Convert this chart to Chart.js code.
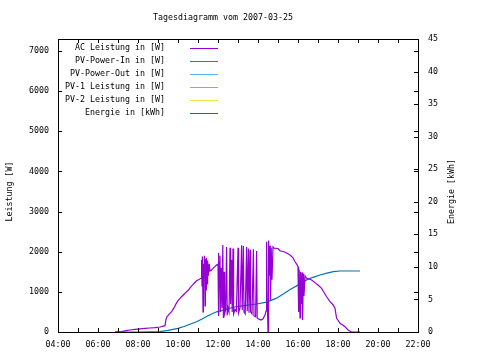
<!DOCTYPE html>
<html>
<head>
<meta charset="utf-8">
<script src="https://cdn.jsdelivr.net/npm/chart.js@4/dist/chart.umd.min.js"></script>
<style>
  html, body { margin: 0; padding: 0; background: #fff; }
  #wrap { width: 480px; height: 360px; }
</style>
</head>
<body>
<div id="wrap"><canvas id="chart" width="480" height="360"></canvas></div>
<script>
// ===================
// Chart data
// ===================
const chartTitle = 'Tagesdiagramm vom 2007-03-25';
const leftTitle = 'Leistung [W]';
const rightTitle = 'Energie [kWh]';

const seriesLabels = ['AC Leistung in [W]', 'PV-Power-In in [W]', 'PV-Power-Out in [W]',
  'PV-1 Leistung in [W]', 'PV-2 Leistung in [W]', 'Energie in [kWh]'];
const seriesColors = ['#9400d3', '#009e73', '#56b4e9', '#e69f00', '#f0e442', '#0072b2'];

// tick values
const hourTicks = [4, 5, 6, 7, 8, 9, 10, 11, 12, 13, 14, 15, 16, 17, 18, 19, 20, 21, 22];
const wattTicks = [0, 1000, 2000, 3000, 4000, 5000, 6000, 7000];
const kwhTicks = [0, 5, 10, 15, 20, 25, 30, 35, 40, 45];

// AC power, time of day in hours
const acHours = [6.85, 7.0, 7.18, 7.4, 7.6, 7.85, 8.1, 8.35, 8.6, 8.85, 9.1, 9.35, 9.4, 9.45, 9.55,
  9.68, 9.8, 9.9, 10.0, 10.1, 10.2, 10.3, 10.42, 10.52, 10.62, 10.72, 10.82, 10.93, 11.05, 11.15,
  11.18, 11.2, 11.22, 11.25, 11.27, 11.3, 11.32, 11.35, 11.37, 11.4, 11.42, 11.45, 11.48, 11.52, 11.56,
  11.6, 11.68, 11.8, 11.93, 12.0,
  12.02, 12.04, 12.07, 12.1, 12.12, 12.16, 12.2, 12.24, 12.27, 12.3, 12.33, 12.38, 12.43, 12.46, 12.5,
  12.55, 12.6, 12.63, 12.68, 12.71, 12.75, 12.78, 12.85, 12.92, 13.0, 13.03, 13.1, 13.18, 13.21, 13.27,
  13.3, 13.36, 13.43, 13.46, 13.52, 13.55, 13.6, 13.63, 13.7, 13.77, 13.8, 13.88, 13.93, 13.96, 14.05,
  14.15, 14.25, 14.35, 14.4, 14.43,
  14.46, 14.5, 14.53, 14.56, 14.6, 14.63, 14.66, 14.7, 14.75, 14.8, 15.0, 15.1, 15.3, 15.45, 15.6,
  15.75, 15.85, 15.95, 16.0, 16.03, 16.06, 16.1, 16.13, 16.16, 16.2, 16.23, 16.27, 16.3, 16.35, 16.43,
  16.55, 16.68, 16.85, 17.0, 17.18, 17.3, 17.43, 17.6, 17.75, 17.85, 17.93, 18.02, 18.1, 18.25, 18.35,
  18.5, 18.68, 19.1];
const acWatts = [0, 5, 10, 35, 50, 67, 80, 90, 100, 110, 125, 157, 320, 380, 440,
  506, 600, 700, 780, 840, 890, 940, 1000, 1046, 1110, 1170, 1220, 1277, 1310, 1337,
  1800, 1150, 1880, 500, 1700, 1350, 1900, 650, 1820, 1050, 1850, 1200, 1780, 1400, 1700,
  1520, 1544, 1610, 1668, 1690,
  1970, 400, 1750, 1900, 500, 1600, 600, 2170, 350, 1500, 450, 550, 2120, 420, 600,
  500, 2100, 700, 1800, 500, 2080, 450, 560, 520, 2100, 480, 600, 2160, 550, 2140,
  500, 450, 2120, 520, 2080, 480, 2050, 500, 450, 2060, 400, 380, 2020, 350, 320,
  300, 330, 420, 520, 2250,
  900, 0, 2280, 1400, 2150, 800, 2100, 1300, 2120, 2090, 2080, 2025, 2000, 1960, 1917,
  1850, 1750, 1680, 1626, 500, 1550, 350, 1500, 700, 1480, 300, 1450, 900, 1400, 1337,
  1320, 1295, 1230, 1170, 1088, 990, 879, 755, 680, 590, 341, 280, 217, 170, 132,
  50, 0, 0];

// cumulative energy
const energyHours = [6.85, 8.0, 9.1, 9.5, 10.0, 10.3, 10.6, 10.93, 11.2, 11.5, 11.93, 12.3, 12.77,
  13.3, 13.93, 14.43, 14.93, 15.3, 15.65, 16.0, 16.43, 16.75, 17.1, 17.45, 17.77, 18.1, 19.1];
const energyKwh = [0, 0, 0.05, 0.25, 0.56, 0.85, 1.2, 1.58, 2.0, 2.5, 3.1, 3.4, 3.8,
  4.05, 4.3, 4.6, 5.2, 5.9, 6.6, 7.2, 8.0, 8.4, 8.75, 9.05, 9.26, 9.37, 9.37];

// the PV series carry no values on this day
const pvIn = [];
const pvOut = [];
const pv1 = [];
const pv2 = [];

const FONT = 'DejaVu Sans Mono';
const FSIZE = 8.3;

const pts = (xs, ys) => xs.map((x, i) => ({ x, y: ys[i] }));
const asTicks = vals => vals.map(v => ({ value: v }));

// ===================
// gnuplot style frame, inward ticks, key, titles
// ===================
const gnuFrame = {
  id: 'gnuFrame',
  afterDraw(chart) {
    const { ctx, chartArea: a, scales } = chart;
    const tl = 4;
    ctx.save();
    ctx.strokeStyle = '#000';
    ctx.lineWidth = 1;
    ctx.strokeRect(a.left + 0.5, a.top + 0.5, a.right - a.left, a.bottom - a.top);
    ctx.beginPath();
    scales.x.ticks.forEach(t => {
      const px = Math.round(scales.x.getPixelForValue(t.value)) + 0.5;
      ctx.moveTo(px, a.bottom); ctx.lineTo(px, a.bottom - tl);
      ctx.moveTo(px, a.top); ctx.lineTo(px, a.top + tl);
    });
    scales.y.ticks.forEach(t => {
      const py = Math.round(scales.y.getPixelForValue(t.value)) + 0.5;
      ctx.moveTo(a.left, py); ctx.lineTo(a.left + tl, py);
      ctx.moveTo(a.right, py); ctx.lineTo(a.right - tl, py);
    });
    scales.y2.ticks.forEach(t => {
      const py = Math.round(scales.y2.getPixelForValue(t.value)) + 0.5;
      ctx.moveTo(a.right, py); ctx.lineTo(a.right - tl, py);
    });
    ctx.stroke();

    ctx.fillStyle = '#000';
    ctx.font = FSIZE + 'px "' + FONT + '"';
    ctx.textBaseline = 'middle';
    ctx.textAlign = 'center';
    ctx.fillText(chartTitle, 223, 18);

    // key
    chart.data.datasets.forEach((ds, i) => {
      const y = 47.5 + i * 13;
      ctx.textAlign = 'right';
      ctx.fillStyle = '#000';
      ctx.fillText(ds.label, 165, y);
      ctx.strokeStyle = ds.borderColor;
      ctx.beginPath();
      ctx.moveTo(190, Math.round(y) + 0.5);
      ctx.lineTo(218, Math.round(y) + 0.5);
      ctx.stroke();
    });

    // axis titles, both read bottom to top
    const cy = (a.top + a.bottom) / 2 + 6;
    [[10, leftTitle], [452, rightTitle]].forEach(([x, txt]) => {
      ctx.save();
      ctx.translate(x, cy);
      ctx.rotate(-Math.PI / 2);
      ctx.textAlign = 'center';
      ctx.fillStyle = '#000';
      ctx.fillText(txt, 0, 0);
      ctx.restore();
    });
    ctx.restore();
  }
};

const lineDs = (label, color, data, axis) => ({
  label, data, yAxisID: axis,
  borderColor: color, backgroundColor: color,
  borderWidth: 1.2, pointRadius: 0, tension: 0, fill: false
});

const tickFont = { family: FONT, size: FSIZE };

new Chart(document.getElementById('chart'), {
  type: 'line',
  data: {
    datasets: [
      lineDs(seriesLabels[0], seriesColors[0], pts(acHours, acWatts), 'y'),
      lineDs(seriesLabels[1], seriesColors[1], pvIn, 'y'),
      lineDs(seriesLabels[2], seriesColors[2], pvOut, 'y'),
      lineDs(seriesLabels[3], seriesColors[3], pv1, 'y'),
      lineDs(seriesLabels[4], seriesColors[4], pv2, 'y'),
      lineDs(seriesLabels[5], seriesColors[5], pts(energyHours, energyKwh), 'y2')
    ]
  },
  options: {
    responsive: false,
    animation: false,
    devicePixelRatio: 1,
    layout: { padding: { top: 39, left: 0, right: 0, bottom: 0 } },
    plugins: { legend: { display: false }, title: { display: false }, tooltip: { enabled: false } },
    scales: {
      x: {
        type: 'linear', min: 4, max: 22,
        grid: { display: false, drawTicks: false }, border: { display: false },
        ticks: {
          autoSkip: false, maxRotation: 0, padding: 8,
          font: tickFont, color: '#000',
          callback: v => v % 2 === 0 ? String(v).padStart(2, '0') + ':00' : ''
        },
        afterBuildTicks: s => { s.ticks = asTicks(hourTicks); },
        afterFit: s => { s.height = 28; }
      },
      y: {
        position: 'left', min: 0, max: 7300,
        grid: { display: false, drawTicks: false }, border: { display: false },
        ticks: { autoSkip: false, padding: 9, font: tickFont, color: '#000', callback: v => String(v) },
        afterBuildTicks: s => { s.ticks = asTicks(wattTicks); },
        afterFit: s => { s.width = 58; }
      },
      y2: {
        position: 'right', min: 0, max: 45,
        grid: { display: false, drawTicks: false }, border: { display: false },
        ticks: { autoSkip: false, padding: 10, font: tickFont, color: '#000', callback: v => String(v) },
        afterBuildTicks: s => { s.ticks = asTicks(kwhTicks); },
        afterFit: s => { s.width = 62; }
      }
    }
  },
  plugins: [gnuFrame]
});
</script>
</body>
</html>
